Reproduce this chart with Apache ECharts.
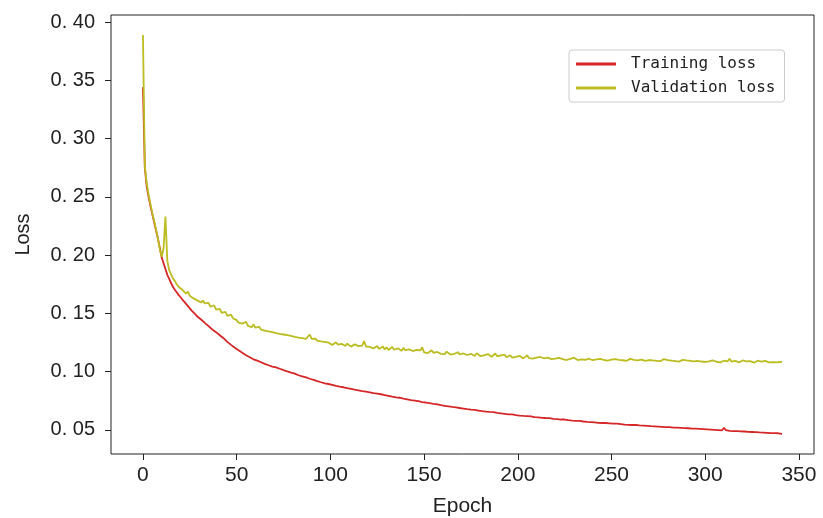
<!DOCTYPE html>
<html>
<head>
<meta charset="utf-8">
<script src="https://cdn.jsdelivr.net/npm/echarts@6/dist/echarts.min.js"></script>
<style>
html,body{margin:0;padding:0;background:#fff;}
#chart{width:823px;height:518px;}
</style>
</head>
<body>
<div id="chart"></div>
<script>
const seriesNames = ['Training loss', 'Validation loss'];
const xTicks = [0, 50, 100, 150, 200, 250, 300, 350];
const yTicks = [0.05, 0.10, 0.15, 0.20, 0.25, 0.30, 0.35, 0.40];
const yTickLabels = ['0. 05', '0. 10', '0. 15', '0. 20', '0. 25', '0. 30', '0. 35', '0. 40'];

const trainingLoss = [
0.3440,0.2750,0.2590,0.2500,0.2420,0.2350,0.2280,0.2210,0.2140,0.2060,
0.1980,0.1930,0.1880,0.1830,0.1795,0.1760,0.1728,0.1702,0.1680,0.1658,
0.1640,0.1618,0.1600,0.1581,0.1562,0.1545,0.1523,0.1507,0.1490,0.1472,
0.1460,0.1447,0.1431,0.1418,0.1402,0.1390,0.1376,0.1361,0.1349,0.1338,
0.1325,0.1312,0.1298,0.1286,0.1270,0.1255,0.1243,0.1229,0.1217,0.1204,
0.1192,0.1183,0.1170,0.1162,0.1150,0.1140,0.1133,0.1122,0.1115,0.1105,
0.1098,0.1093,0.1085,0.1080,0.1071,0.1066,0.1060,0.1054,0.1048,0.1043,
0.1038,0.1036,0.1029,0.1024,0.1019,0.1012,0.1009,0.1001,0.0996,0.0991,
0.0985,0.0982,0.0975,0.0968,0.0966,0.0958,0.0953,0.0949,0.0941,0.0938,
0.0932,0.0929,0.0922,0.0918,0.0914,0.0908,0.0906,0.0899,0.0896,0.0893,
0.0889,0.0886,0.0882,0.0877,0.0876,0.0870,0.0868,0.0865,0.0861,0.0857,
0.0856,0.0851,0.0849,0.0844,0.0843,0.0838,0.0836,0.0832,0.0833,0.0828,
0.0826,0.0822,0.0820,0.0815,0.0814,0.0810,0.0806,0.0805,0.0800,0.0798,
0.0795,0.0791,0.0790,0.0784,0.0783,0.0779,0.0776,0.0775,0.0770,0.0767,
0.0765,0.0761,0.0760,0.0755,0.0753,0.0751,0.0746,0.0745,0.0741,0.0738,
0.0736,0.0734,0.0729,0.0728,0.0724,0.0723,0.0718,0.0719,0.0714,0.0711,
0.0710,0.0706,0.0705,0.0701,0.0700,0.0696,0.0694,0.0693,0.0688,0.0687,
0.0685,0.0682,0.0681,0.0677,0.0678,0.0673,0.0671,0.0670,0.0666,0.0665,
0.0664,0.0660,0.0661,0.0656,0.0655,0.0653,0.0650,0.0651,0.0646,0.0645,
0.0644,0.0641,0.0640,0.0637,0.0638,0.0633,0.0631,0.0632,0.0627,0.0626,
0.0625,0.0622,0.0623,0.0619,0.0618,0.0617,0.0613,0.0615,0.0611,0.0609,
0.0609,0.0606,0.0607,0.0603,0.0602,0.0601,0.0598,0.0600,0.0596,0.0594,
0.0594,0.0591,0.0592,0.0588,0.0596,0.0588,0.0584,0.0583,0.0582,0.0579,
0.0580,0.0577,0.0575,0.0576,0.0572,0.0571,0.0572,0.0568,0.0567,0.0566,
0.0565,0.0563,0.0564,0.0560,0.0561,0.0558,0.0557,0.0558,0.0554,0.0555,
0.0555,0.0552,0.0551,0.0552,0.0548,0.0549,0.0546,0.0545,0.0546,0.0542,
0.0544,0.0541,0.0540,0.0541,0.0537,0.0538,0.0535,0.0536,0.0533,0.0534,
0.0535,0.0531,0.0532,0.0529,0.0530,0.0527,0.0528,0.0525,0.0527,0.0523,
0.0525,0.0522,0.0523,0.0519,0.0521,0.0518,0.0519,0.0516,0.0517,0.0514,
0.0515,0.0513,0.0514,0.0510,0.0512,0.0509,0.0510,0.0507,0.0509,0.0505,
0.0505,0.0503,0.0506,0.0501,0.0502,0.0499,0.0501,0.0497,0.0499,0.0495,
0.0518,0.0497,0.0495,0.0491,0.0493,0.0489,0.0491,0.0488,0.0490,0.0486,
0.0487,0.0485,0.0486,0.0482,0.0484,0.0481,0.0482,0.0479,0.0481,0.0477,
0.0478,0.0476,0.0477,0.0474,0.0476,0.0472,0.0474,0.0471,0.0473,0.0470,
0.0467,0.0465
];

const validationLoss = [
0.3890,0.2760,0.2620,0.2520,0.2440,0.2360,0.2290,0.2220,0.2140,0.2050,
0.1985,0.2060,0.2330,0.1950,0.1870,0.1835,0.1800,0.1778,0.1750,0.1728,
0.1745,0.1702,0.1690,0.1668,0.1686,0.1650,0.1663,0.1628,0.1642,0.1611,
0.1625,0.1592,0.1610,0.1585,0.1573,0.1590,0.1556,0.1548,0.1569,0.1531,
0.1519,0.1538,0.1504,0.1497,0.1512,0.1478,0.1470,0.1489,0.1458,0.1449,
0.1441,0.1420,0.1435,0.1411,0.1403,0.1427,0.1392,0.1399,0.1381,0.1405,
0.1376,0.1368,0.1384,0.1359,0.1371,0.1352,0.1363,0.1344,0.1358,0.1339,
0.1347,0.1330,0.1342,0.1323,0.1337,0.1318,0.1329,0.1312,0.1321,0.1306,
0.1314,0.1298,0.1309,0.1292,0.1301,0.1287,0.1295,0.1281,0.1290,0.1318,
0.1280,0.1271,0.1283,0.1265,0.1276,0.1259,0.1268,0.1254,0.1262,0.1249,
0.1243,0.1228,0.1236,0.1251,0.1232,0.1222,0.1238,0.1230,0.1219,0.1240,
0.1226,0.1214,0.1221,0.1233,0.1248,0.1218,0.1209,0.1222,0.1262,0.1215,
0.1203,0.1212,0.1226,0.1198,0.1206,0.1219,0.1193,0.1201,0.1214,0.1190,
0.1208,0.1185,0.1196,0.1211,0.1187,0.1181,0.1199,0.1192,0.1178,0.1203,
0.1183,0.1174,0.1190,0.1198,0.1176,0.1169,0.1185,0.1172,0.1181,0.1208,
0.1165,0.1177,0.1158,0.1171,0.1183,0.1161,0.1154,0.1168,0.1175,0.1152,
0.1163,0.1149,0.1171,0.1156,0.1146,0.1162,0.1151,0.1144,0.1166,0.1148,
0.1140,0.1155,0.1161,0.1142,0.1137,0.1152,0.1146,0.1134,0.1158,0.1141,
0.1133,0.1147,0.1139,0.1128,0.1150,0.1136,0.1127,0.1143,0.1155,0.1131,
0.1124,0.1138,0.1129,0.1145,0.1122,0.1133,0.1140,0.1119,0.1130,0.1126,
0.1117,0.1134,0.1124,0.1113,0.1129,0.1139,0.1115,0.1121,0.1110,0.1127,
0.1119,0.1108,0.1125,0.1132,0.1112,0.1104,0.1120,0.1114,0.1106,0.1123,
0.1111,0.1102,0.1118,0.1126,0.1107,0.1113,0.1099,0.1116,0.1109,0.1103,
0.1119,0.1106,0.1098,0.1112,0.1104,0.1121,0.1101,0.1095,0.1110,0.1103,
0.1097,0.1114,0.1105,0.1093,0.1108,0.1117,0.1099,0.1104,0.1094,0.1111,
0.1102,0.1096,0.1107,0.1090,0.1100,0.1113,0.1097,0.1104,0.1092,0.1099,
0.1109,0.1094,0.1101,0.1118,0.1096,0.1088,0.1103,0.1097,0.1091,0.1106,
0.1099,0.1087,0.1095,0.1104,0.1092,0.1100,0.1089,0.1096,0.1107,0.1093,
0.1098,0.1086,0.1094,0.1101,0.1090,0.1097,0.1085,0.1093,0.1100,0.1088,
0.1095,0.1084,0.1091,0.1099,0.1087,0.1083,0.1092,0.1097,0.1086,0.1090,
0.1082,0.1094,0.1088,0.1081,0.1096,0.1089,0.1084,0.1091,0.1079,0.1087,
0.1093,0.1083,0.1088,0.1110,0.1086,0.1080,0.1092,0.1085,0.1078,0.1089,
0.1095,0.1082,0.1087,0.1079,0.1090,0.1084,0.1076,0.1088,0.1093,0.1081,
0.1086,0.1077,0.1091,0.1083,0.1079,0.1087,0.1080,0.1085,0.1078,0.1084,
0.1082,0.1083
];

const toPairs = arr => arr.map((v, i) => [i, v]);

const chart = echarts.init(document.getElementById('chart'), null, {renderer: 'canvas'});
chart.setOption({
  animation: false,
  backgroundColor: '#ffffff',
  grid: {
    left: 111, right: 9, top: 15, bottom: 64,
    containLabel: false, outerBoundsMode: 'none',
    show: true, borderColor: '#222', borderWidth: 1, backgroundColor: 'transparent'
  },
  legend: {
    left: 569, top: 50,
    orient: 'vertical',
    data: seriesNames.map(n => ({name: n, icon: 'rect'})),
    itemWidth: 40, itemHeight: 3, itemGap: 8,
    padding: [6, 9, 6, 7],
    borderColor: '#cccccc', borderWidth: 1, borderRadius: 3,
    backgroundColor: '#ffffff',
    textStyle: {fontFamily: 'DejaVu Sans Mono', fontSize: 16, color: '#222', padding: [0, 0, 0, 10]}
  },
  xAxis: {
    type: 'value',
    min: -17.05, max: 358.05,
    name: 'Epoch', nameLocation: 'middle', nameGap: 42,
    nameTextStyle: {fontFamily: 'Liberation Sans', fontSize: 21, color: '#222'},
    axisLine: {show: false, onZero: false},
    axisTick: {show: true, inside: false, length: 6, customValues: xTicks, lineStyle: {color: '#222'}},
    axisLabel: {customValues: xTicks, fontFamily: 'Liberation Sans', fontSize: 21, color: '#222', margin: 11},
    splitLine: {show: false}
  },
  yAxis: {
    type: 'value',
    min: 0.0292, max: 0.4061,
    name: 'Loss', nameLocation: 'middle', nameGap: 78,
    nameTextStyle: {fontFamily: 'Liberation Sans', fontSize: 20, color: '#222'},
    axisLine: {show: false, onZero: false},
    axisTick: {show: true, inside: false, length: 6, customValues: yTicks, lineStyle: {color: '#222'}},
    axisLabel: {
      customValues: yTicks, fontFamily: 'Liberation Sans', fontSize: 20, color: '#222', margin: 16,
      formatter: v => {
        const i = yTicks.findIndex(t => Math.abs(t - v) < 1e-6);
        return i >= 0 ? yTickLabels[i] : '';
      }
    },
    splitLine: {show: false}
  },
  series: [
    {
      name: seriesNames[0], type: 'line', data: toPairs(trainingLoss),
      showSymbol: false, symbol: 'none',
      lineStyle: {color: '#d62728', width: 1.8}, itemStyle: {color: '#d62728'}
    },
    {
      name: seriesNames[1], type: 'line', data: toPairs(validationLoss),
      showSymbol: false, symbol: 'none',
      lineStyle: {color: '#bcbd22', width: 1.8}, itemStyle: {color: '#bcbd22'}
    }
  ]
});
</script>
</body>
</html>
